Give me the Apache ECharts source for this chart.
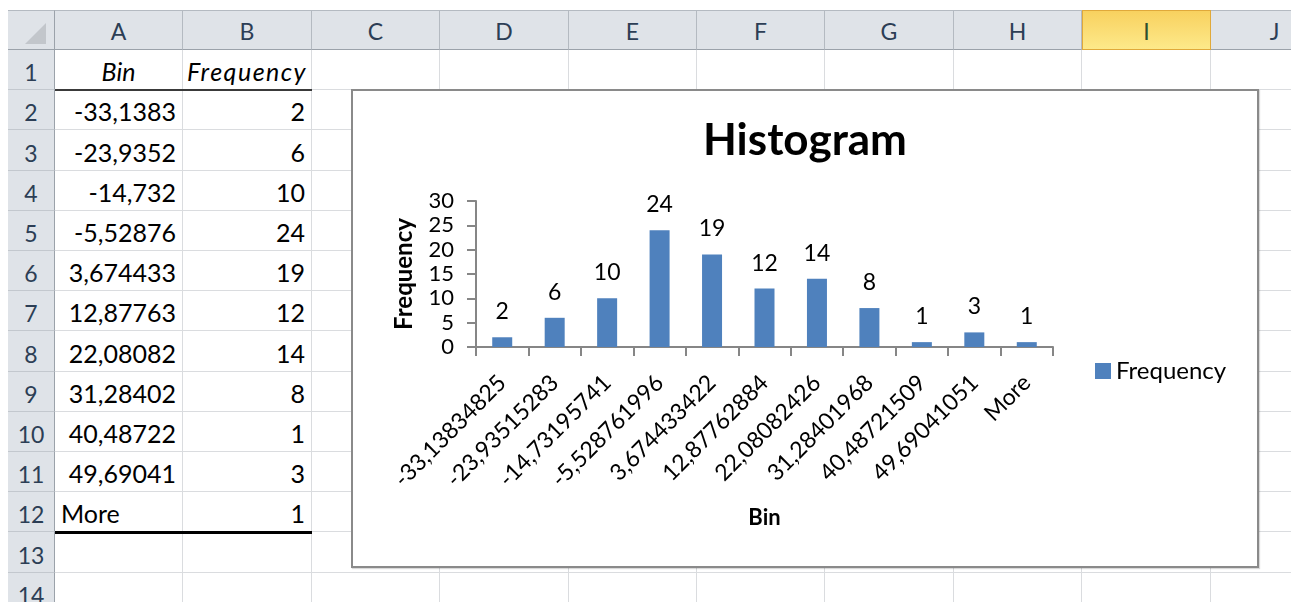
<!DOCTYPE html>
<html>
<head>
<meta charset="utf-8">
<script src="https://cdn.jsdelivr.net/npm/echarts@6/dist/echarts.min.js"></script>
<style>
    body { margin: 0; width: 1291px; height: 602px; overflow: hidden; background: #fff; font-family: Lato, 'Open Sans', sans-serif; }
    #sheet { position: absolute; left: 0; top: 0; width: 1291px; height: 602px; overflow: hidden; }
    .box { position: absolute; box-sizing: border-box; white-space: nowrap; overflow: hidden; }
    .cell { border-right: 1px solid #dadcdf; border-bottom: 1px solid #dadcdf; font-size: 25px; color: #000; }
    .colhead { background: #dfe3e8; border-right: 1px solid #b4bac1; border-bottom: 1px solid #9ba2aa; border-top: 1px solid #b4bac1; text-align: center; line-height: 40px; font-size: 23px; color: #2c3e55; }
    .colhead.sel { background: linear-gradient(#f8d15f, #fde98a); border: 1px solid #e0a93a; color: #2f4f2f; }
    .rowhead { background: #dfe3e8; border-right: 1px solid #9ba2aa; border-bottom: 1px solid #c3c8ce; text-align: center; font-size: 23px; color: #2c3e55; }
    .corner { background: #dfe3e8; border-right: 1px solid #9ba2aa; border-bottom: 1px solid #9ba2aa; border-top: 1px solid #b4bac1; }
    .tri { position: absolute; right: 8px; bottom: 5px; width: 0; height: 0; border-left: 21px solid transparent; border-bottom: 21px solid #c2c6cb; }
    .txt { position: absolute; left: 0; right: 0; bottom: 3px; padding: 0 6px; }
    #chart { position: absolute; left: 351px; top: 89px; width: 908px; height: 479px; box-sizing: border-box; border: 2px solid #8a8a8a; background: #fff; box-shadow: 1px 1px 1px rgba(0,0,0,0.15); }
</style>
</head>
<body>
<div id="sheet"></div>
<div id="chart"></div>
<script>
// spreadsheet content
const colLetters = ['A', 'B', 'C', 'D', 'E', 'F', 'G', 'H', 'I', 'J'];
const cellBins = ['-33,1383', '-23,9352', '-14,732', '-5,52876', '3,674433', '12,87763', '22,08082', '31,28402', '40,48722', '49,69041', 'More'];

// chart data
const binLabels = ['-33,13834825', '-23,93515283', '-14,73195741', '-5,528761996', '3,674433422', '12,87762884', '22,08082426', '31,28401968', '40,48721509', '49,69041051', 'More'];
const frequency = [2, 6, 10, 24, 19, 12, 14, 8, 1, 3, 1];
const yMin = 0;
const yMax = 30;
const yStep = 5;

function add_box(parent, cls, x, y, w, h, text, align, style) {
    let el = document.createElement('div');
    el.className = 'box ' + cls;
    el.style.left = x + 'px';
    el.style.top = y + 'px';
    el.style.width = w + 'px';
    el.style.height = h + 'px';
    if (text !== undefined && text !== '') {
        let t = document.createElement('div');
        t.className = 'txt';
        t.style.textAlign = align || 'center';
        if (style) t.style.cssText += style;
        t.textContent = text;
        el.appendChild(t);
    }
    parent.appendChild(el);
    return el;
}

function build_sheet() {
    const sheet = document.getElementById('sheet');
    const colX = [55];
    for (let i = 1; i <= colLetters.length; i++) colX.push(Math.round(55 + 128.4 * i));
    const rowY = [50];
    for (let i = 1; i <= 14; i++) rowY.push(Math.round(50 + 40.2 * i));

    let corner = add_box(sheet, 'corner', 8, 10, 47, 40);
    let tri = document.createElement('div');
    tri.className = 'tri';
    corner.appendChild(tri);

    colLetters.forEach(function (c, i) {
        let h = add_box(sheet, i === 8 ? 'colhead sel' : 'colhead', colX[i], 10, colX[i + 1] - colX[i], 40);
        h.textContent = c;
    });

    for (let r = 0; r < 14; r++) {
        let hgt = rowY[r + 1] - rowY[r];
        add_box(sheet, 'rowhead', 8, rowY[r], 47, hgt, String(r + 1), 'center', 'padding:0;');
        for (let c = 0; c < colLetters.length; c++) {
            let text, align, style;
            if (r === 0 && c === 0) { text = 'Bin'; align = 'center'; style = 'font-style:italic;'; }
            if (r === 0 && c === 1) { text = 'Frequency'; align = 'center'; style = 'font-style:italic;padding:0;letter-spacing:1.5px;'; }
            if (r >= 1 && r <= cellBins.length && c === 0) {
                text = cellBins[r - 1];
                align = text === 'More' ? 'left' : 'right';
            }
            if (r >= 1 && r <= frequency.length && c === 1) { text = String(frequency[r - 1]); align = 'right'; }
            add_box(sheet, 'cell', colX[c], rowY[r], colX[c + 1] - colX[c], hgt, text, align, style);
        }
    }

    // borders under the header row and the last data row
    add_box(sheet, '', colX[0], rowY[1] - 1, colX[2] - colX[0], 2).style.background = '#3a3a3a';
    add_box(sheet, '', colX[0], rowY[12] - 1, colX[2] - colX[0], 3).style.background = '#000';
}

function render_chart() {
    const axisColor = '#868686';
    const option = {
        animation: false,
        title: {
            text: 'Histogram',
            left: 'center',
            top: 28,
            padding: 0,
            textStyle: { fontFamily: 'Lato', fontSize: 44, fontWeight: 'bold', color: '#000' }
        },
        legend: {
            data: ['Frequency'],
            orient: 'vertical',
            left: 742,
            top: 268,
            padding: 0,
            itemWidth: 16,
            itemHeight: 16,
            icon: 'rect',
            textStyle: { fontFamily: 'Lato', fontSize: 24, color: '#000' }
        },
        grid: {
            left: 123,
            right: 204,
            top: 110,
            bottom: 219
        },
        xAxis: {
            type: 'category',
            data: binLabels,
            name: 'Bin',
            nameLocation: 'middle',
            nameGap: 160,
            nameTextStyle: { fontFamily: 'Lato', fontSize: 22, fontWeight: 'bold', color: '#000' },
            axisLine: { lineStyle: { color: axisColor, width: 2 } },
            axisTick: { show: true, length: 9, lineStyle: { color: axisColor, width: 2 } },
            axisLabel: {
                interval: 0,
                rotate: 45,
                margin: 32,
                fontFamily: 'Lato',
                fontSize: 23,
                color: '#000'
            }
        },
        yAxis: {
            type: 'value',
            min: yMin,
            max: yMax,
            interval: yStep,
            name: 'Frequency',
            nameLocation: 'middle',
            nameRotate: 90,
            nameGap: 60,
            nameTextStyle: { fontFamily: 'Lato', fontSize: 24, fontWeight: 'bold', color: '#000' },
            splitLine: { show: false },
            axisLine: { show: true, lineStyle: { color: axisColor, width: 2 } },
            axisTick: { show: true, length: 9, lineStyle: { color: axisColor, width: 2 } },
            axisLabel: { margin: 22, fontFamily: 'Lato', fontSize: 22, color: '#000' }
        },
        series: [{
            name: 'Frequency',
            type: 'bar',
            data: frequency,
            barWidth: 20,
            itemStyle: { color: '#4f81bd' },
            label: {
                show: true,
                position: 'top',
                distance: 14,
                fontFamily: 'Lato',
                fontSize: 23,
                color: '#000'
            }
        }]
    };

    var barChart = echarts.init(document.getElementById('chart'));
    barChart.setOption(option);
}

build_sheet();
render_chart();
</script>
</body>
</html>
